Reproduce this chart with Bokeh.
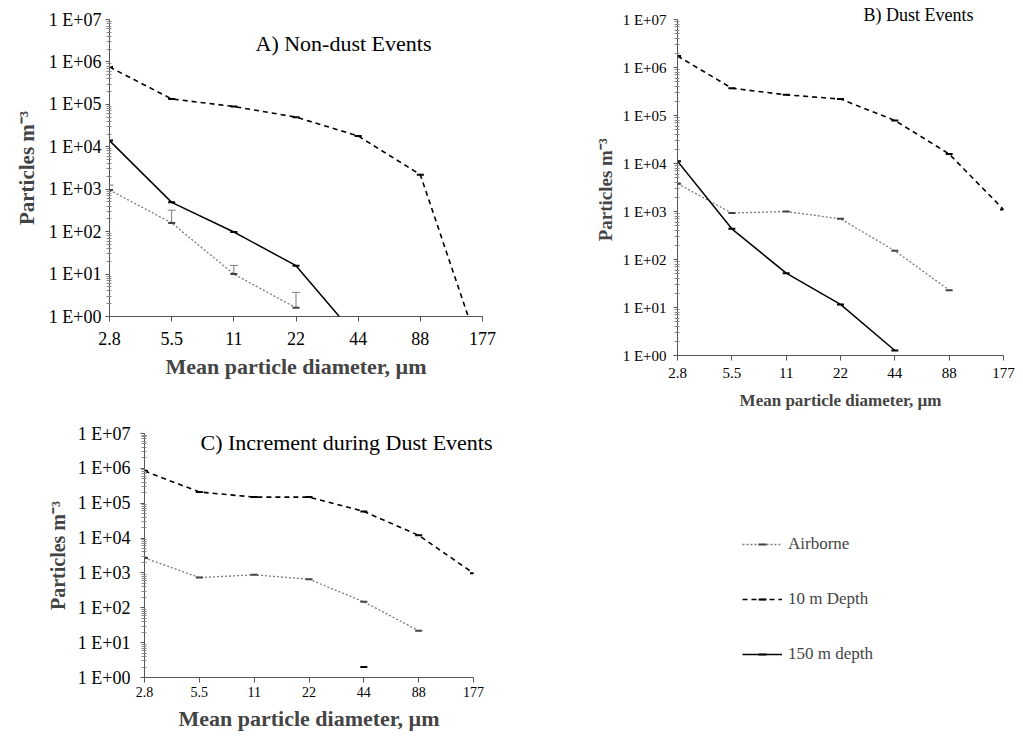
import math
from bokeh.plotting import figure
from bokeh.models import (ColumnDataSource, Range1d, FixedTicker, CustomJSTickFormatter,
                          Label, Title, Whisker, TeeHead, Legend, LegendItem)
from bokeh.layouts import column, row
from bokeh.embed import file_html
from bokeh.resources import INLINE

nan = float("nan")

# ---------------- data ----------------
sizes = ["2.8", "5.5", "11", "22", "44", "88", "177"]
xidx = list(range(len(sizes)))

# A) Non-dust events
airborne_A = [960, 160, 10, 1.6, nan, nan, nan]
airborne_A_upper = [1250, 320, 16, 3.7, nan, nan, nan]
depth10_A = [7.6e5, 1.34e5, 8.9e4, 5.0e4, 1.8e4, 2.2e3, 0.1]
depth150_A = [1.4e4, 490, 98, 15.8, 0.3, nan, nan]

# B) Dust events
airborne_B = [3800, 930, 1000, 705, 152, 23, nan]
depth10_B = [1.74e6, 3.7e5, 2.7e5, 2.2e5, 7.9e4, 1.58e4, 1.1e3]
depth150_B = [1.12e4, 436, 52, 11.6, 1.27, nan, nan]

# C) Increment during dust events
airborne_C = [2700, 735, 880, 660, 148, 22, nan]
depth10_C = [8.4e5, 2.1e5, 1.5e5, 1.5e5, 5.8e4, 1.2e4, 980]
depth150_C = [nan, nan, nan, nan, 2.0, nan, nan]

series_names = ["Airborne", "10 m Depth", "150 m depth"]

FONT = "Liberation Serif"
GRAY = "#7a7a7a"
STY = {
    "Airborne": dict(line_color=GRAY, line_dash="2 2", line_width=1.3),
    "10 m Depth": dict(line_color="black", line_dash="5 4", line_width=1.6),
    "150 m depth": dict(line_color="black", line_width=1.5),
}
MK = {"Airborne": "#444444", "10 m Depth": "black", "150 m depth": "black"}

major = [10 ** e for e in range(0, 8)]
minor = [m * 10 ** e for e in range(0, 7) for m in range(2, 10)]


def panel(series, frame_w, frame_h, borders, fs):
    p = figure(title=None, y_axis_type="log", output_backend="svg", toolbar_location=None,
               frame_width=frame_w, frame_height=frame_h,
               min_border_left=borders[0], min_border_right=borders[1],
               min_border_top=borders[2], min_border_bottom=borders[3],
               x_range=Range1d(0, 6), y_range=Range1d(1, 1e7))
    p.outline_line_color = None
    p.grid.visible = False
    p.background_fill_color = "white"
    p.border_fill_color = "white"

    rends = {}
    for name, vals in series:
        src = ColumnDataSource(dict(x=xidx, y=vals))
        lr = p.line("x", "y", source=src, **STY[name])
        sr = p.scatter("x", "y", source=src, marker="dash", size=7, line_width=2,
                       line_color=MK[name])
        rends[name] = [lr, sr]

    xa = p.xaxis[0]
    xa.ticker = FixedTicker(ticks=xidx, minor_ticks=[])
    xa.major_label_overrides = {i: s for i, s in zip(xidx, sizes)}
    xa.major_tick_out = 5
    xa.major_tick_in = 0
    xa.major_label_standoff = fs["xstand"]
    xa.major_label_text_font = FONT
    xa.major_label_text_font_size = fs["xtick"]
    xa.major_label_text_color = "black"
    xa.axis_label = "Mean particle diameter, \u00b5m"
    xa.axis_label_text_font = FONT
    xa.axis_label_text_font_style = "bold"
    xa.axis_label_text_font_size = fs["xtitle"]
    xa.axis_label_standoff = fs["xlstand"]
    xa.axis_line_color = "#555555"
    xa.major_tick_line_color = "#555555"

    ya = p.yaxis[0]
    ya.ticker = FixedTicker(ticks=major, minor_ticks=minor)
    ya.formatter = CustomJSTickFormatter(
        code="const e = Math.round(Math.log10(tick)); return '1 E+' + String(e).padStart(2, '0');")
    ya.major_tick_out = 4
    ya.major_tick_in = 0
    ya.minor_tick_out = 3
    ya.minor_tick_in = 2
    ya.major_label_standoff = fs["ystand"]
    ya.major_label_text_font = FONT
    ya.major_label_text_font_size = fs["ytick"]
    ya.major_label_text_color = "black"
    ya.axis_label = fs["ylabel"]
    ya.axis_label_text_font = FONT
    ya.axis_label_text_font_style = "bold"
    ya.axis_label_text_font_size = fs["ytitle"]
    ya.axis_label_standoff = fs["ylstand"]
    ya.axis_line_color = "#555555"
    ya.major_tick_line_color = "#555555"
    ya.minor_tick_line_color = "#888888"
    return p, rends


def top_title(p, text, offset, standoff, size):
    p.add_layout(Title(text=text, align="left", offset=offset, vertical_align="bottom",
                       standoff=standoff, text_font=FONT, text_font_size=size,
                       text_font_style="normal", text_color="black"), "above")


pA, _ = panel([("Airborne", airborne_A), ("10 m Depth", depth10_A), ("150 m depth", depth150_A)],
              373, 297, (109, 100, 19, 62),
              dict(xstand=10, xtick="18px", xtitle="22px", xlstand=6, ystand=4, ytick="18px",
                   ytitle="21px", ylstand=7, ylabel="Particles m\u207b\u00b3"))
pA.add_layout(Label(x=146, y=273, x_units="screen", y_units="screen",
                    text="A) Non-dust Events", text_font=FONT, text_font_size="22px",
                    text_baseline="middle", text_color="black"))
errA = ColumnDataSource(dict(x=xidx, lower=airborne_A, upper=airborne_A_upper))
pA.add_layout(Whisker(base="x", lower="lower", upper="upper", source=errA, dimension="height",
                      line_color=GRAY, line_width=1,
                      upper_head=TeeHead(size=8, line_color=GRAY, line_width=1),
                      lower_head=None))

pB, _ = panel([("Airborne", airborne_B), ("10 m Depth", depth10_B), ("150 m depth", depth150_B)],
              326, 336, (95, 12, 19, 60),
              dict(xstand=7, xtick="15px", xtitle="17px", xlstand=10, ystand=7, ytick="15px",
                   ytitle="19px", ylstand=4, ylabel="Particles  m\u207b\u00b3"))
top_title(pB, "B) Dust Events", 186, -10, "18px")

pC, rC = panel([("Airborne", airborne_C), ("10 m Depth", depth10_C), ("150 m depth", depth150_C)],
               329, 244, (144, 542, 18, 58),
               dict(xstand=4, xtick="14px", xtitle="22px", xlstand=6, ystand=10, ytick="18px",
                    ytitle="20px", ylstand=6, ylabel="Particles m\u207b\u00b3"))
top_title(pC, "C) Increment  during Dust Events", 56, -42, "22px")

items = [LegendItem(label=name, renderers=rC[name]) for name in series_names]
leg = Legend(items=items, location=(269, 13), glyph_width=40, glyph_height=20,
             label_height=20, spacing=35, padding=0, margin=0, label_standoff=6,
             label_text_font=FONT, label_text_font_size="17px",
             border_line_color=None, background_fill_alpha=0)
pC.add_layout(leg, "right")

layout = column(row(pA, pB), pC)
open("out.html", "w").write(file_html(layout, INLINE))
